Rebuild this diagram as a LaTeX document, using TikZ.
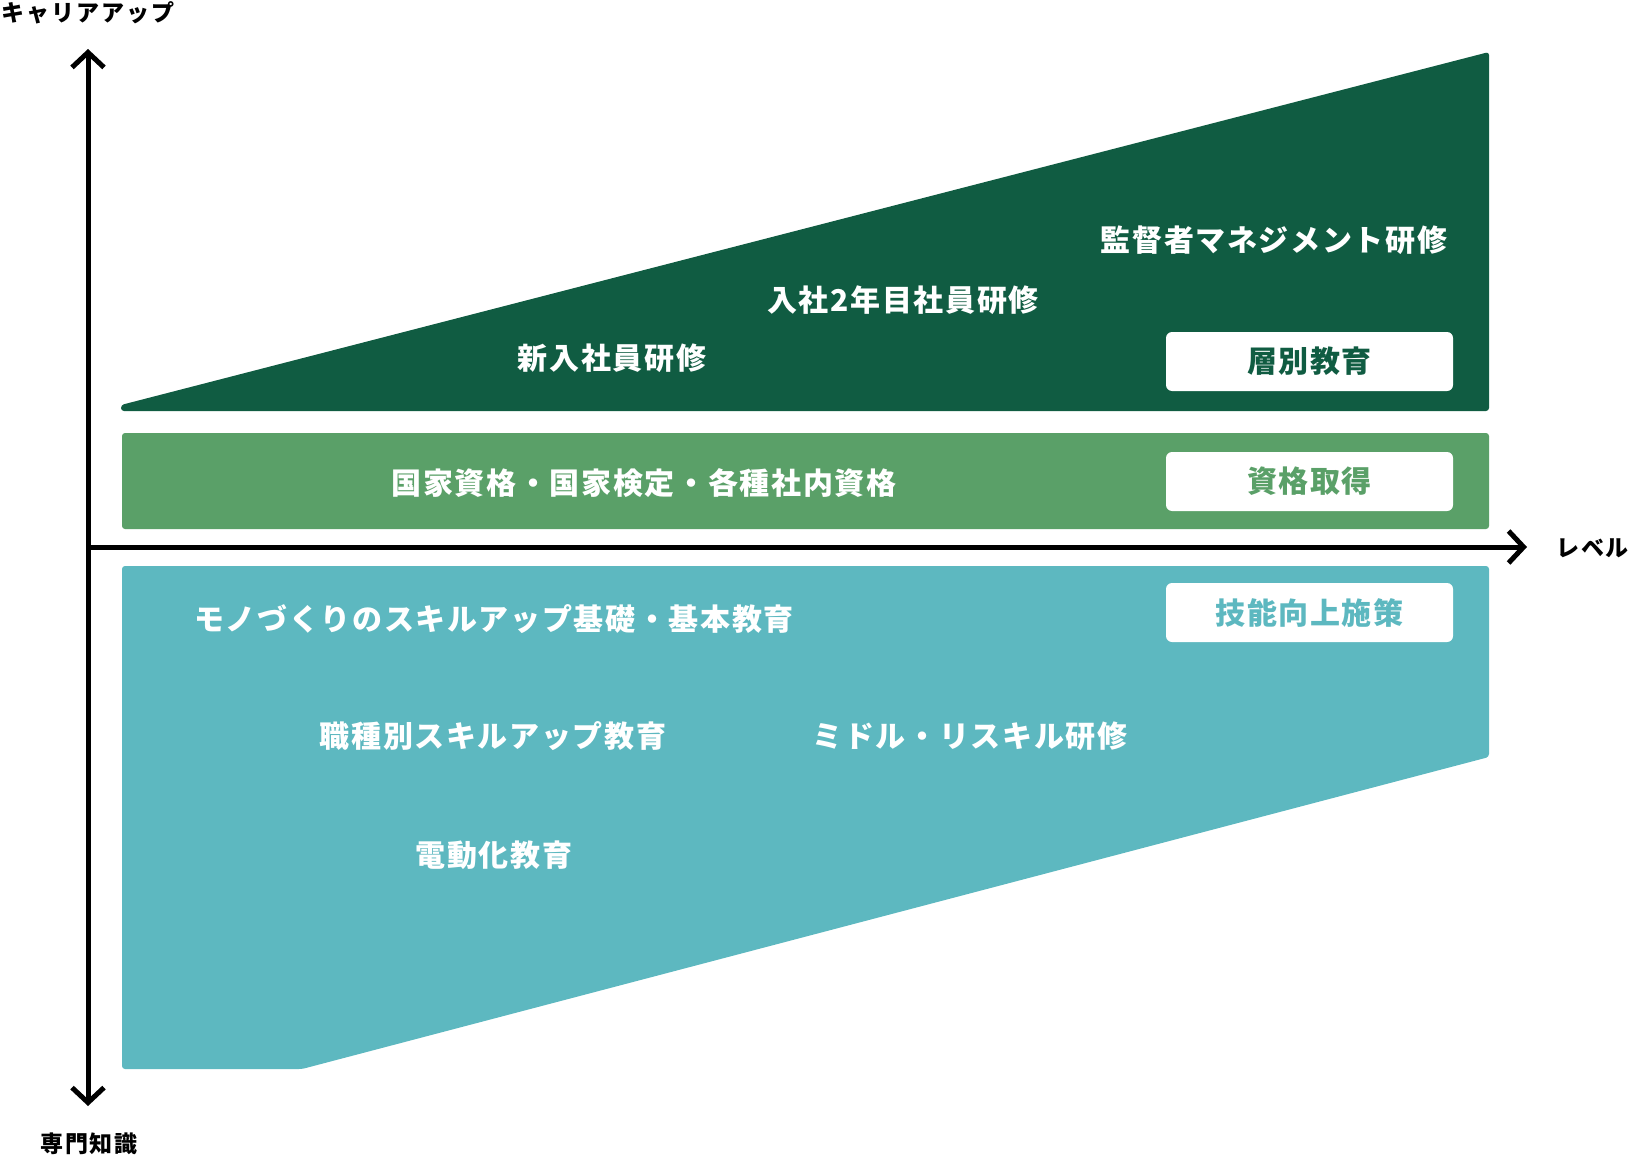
\documentclass[tikz,border=0pt]{standalone}
\usepackage{fontspec}
\setmainfont{Noto Sans CJK JP}
\usetikzlibrary{arrows.meta}
\definecolor{dkgreen}{HTML}{105C42}
\definecolor{mdgreen}{HTML}{5AA068}
\definecolor{teal2}{HTML}{5DB8C0}
\tikzset{
  big/.style={text=white, font=\fontsize{30}{36}\selectfont\bfseries\addfontfeatures{LetterSpace=5.5}, inner sep=0pt},
  small/.style={text=black, font=\fontsize{23}{27}\selectfont\bfseries\addfontfeatures{LetterSpace=8}, inner sep=0pt},
  tag/.style={fill=white, rounded corners=6pt, minimum width=287pt, minimum height=59pt, inner sep=0pt, font=\fontsize{30}{36}\selectfont\bfseries\addfontfeatures{LetterSpace=5}},
  axis/.style={line width=5pt, {Straight Barb[length=15pt,width=32pt,line width=5pt]}-{Straight Barb[length=15pt,width=32pt,line width=5pt]}},
  axisone/.style={line width=5pt, -{Straight Barb[length=15pt,width=32pt,line width=5pt]}},
  band/.style={rounded corners=3pt}
}
\begin{document}
\begin{tikzpicture}[x=1pt,y=-1pt]
\useasboundingbox (0,0) rectangle (1631,1156);
% bands
\fill[dkgreen, band] (121,411) -- (1489,411) -- (1489,52) -- (121,405) -- cycle;
\fill[mdgreen, band] (122,433) rectangle (1489,529);
\fill[teal2, band] (122,566) -- (1489,566) -- (1489,757) -- (302,1069) -- (122,1069) -- cycle;
% axes
\coordinate (vtop) at (88,49);
\coordinate (vbot) at (88,1106);
\coordinate (horg) at (86,547);
\coordinate (hend) at (1527,547);
\draw[axis] (vtop) -- (vbot);
\draw[axisone] (horg) -- (hend);
\node[small] (lcareer) at (88,13) {キャリアアップ};
\node[small, anchor=west] (llevel) at (1556,548) {レベル};
\node[small] (lexpert) at (89,1144) {専門知識};
% tags
\node[tag, text=dkgreen] (t1) at (1309.5,361.5) {層別教育};
\node[tag, text=mdgreen] (t2) at (1309.5,481.5) {資格取得};
\node[tag, text=teal2] (t3) at (1309.5,612.5) {技能向上施策};
% texts
\node[big] (a1) at (1274,240) {監督者マネジメント研修};
\node[big] (a2) at (903,300) {入社2年目社員研修};
\node[big] (a3) at (612,358) {新入社員研修};
\node[big] (b1) at (644,483) {国家資格・国家検定・各種社内資格};
\node[big] (c1) at (494,619) {モノづくりのスキルアップ基礎・基本教育};
\node[big] (c2) at (493,736) {職種別スキルアップ教育};
\node[big] (c3) at (970,736) {ミドル・リスキル研修};
\node[big] (c4) at (494,855) {電動化教育};
\end{tikzpicture}
\end{document}
